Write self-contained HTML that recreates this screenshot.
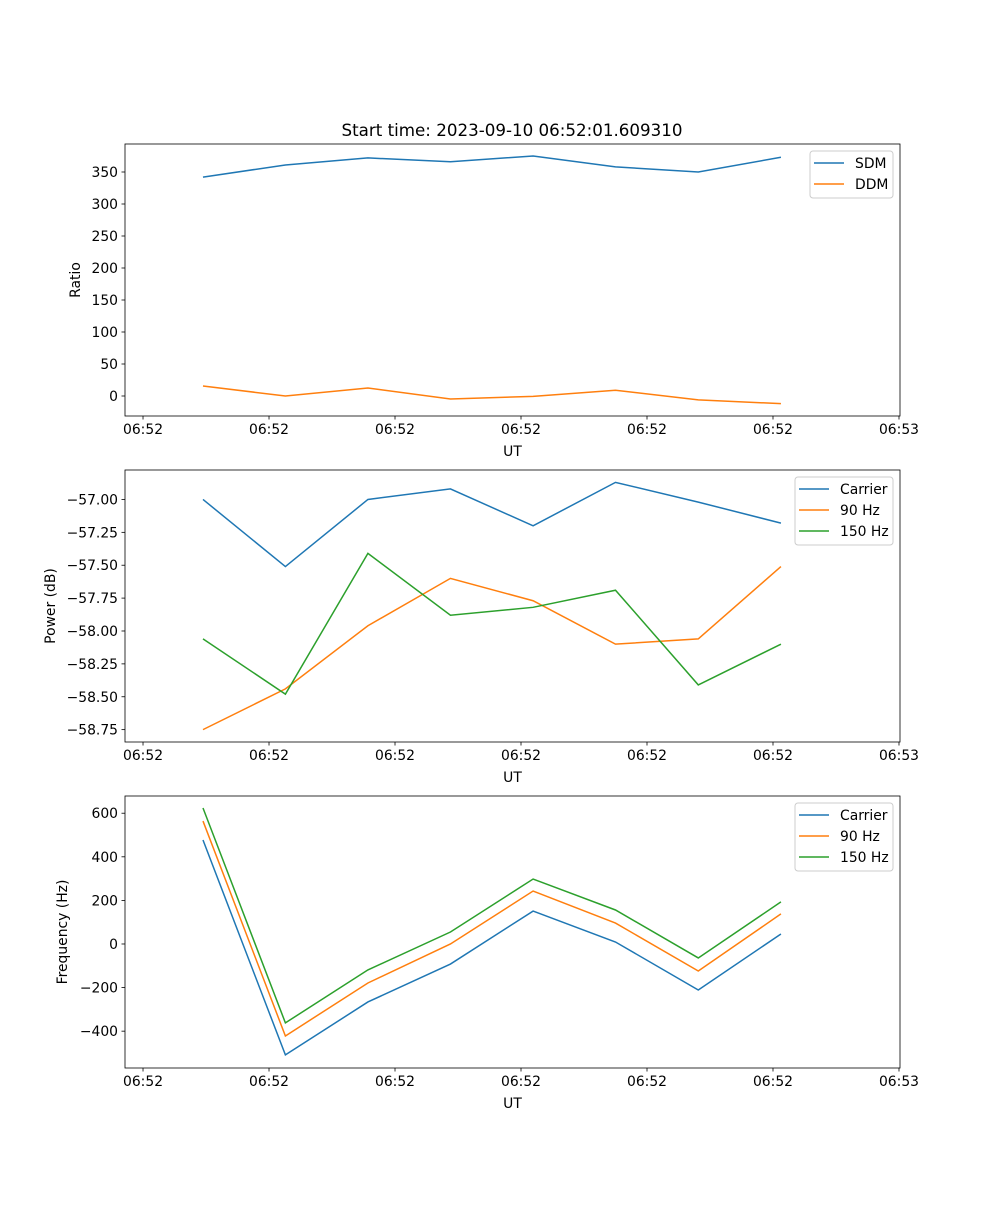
<!DOCTYPE html>
<html><head><meta charset="utf-8"><style>
body{margin:0;background:#fff}
svg text{font-family:"DejaVu Sans","Liberation Sans",sans-serif;font-size:13.9px;fill:#000}
</style></head><body>
<svg id="fig" width="1000" height="1200" xmlns="http://www.w3.org/2000/svg">
<text x="512" y="136" text-anchor="middle" style="font-size:16.7px">Start time: 2023-09-10 06:52:01.609310</text>
</svg>
<script>
// time in seconds after 06:52:00
const times = [4.76, 11.3, 17.85, 24.4, 30.96, 37.5, 44.07, 50.63];
const xTickValues = [0, 10, 20, 30, 40, 50, 60];
const xTickLabels = ["06:52","06:52","06:52","06:52","06:52","06:52","06:53"];
const sdm = [342, 361, 372, 366, 375, 358, 350, 373];
const ddm = [15.6, 0, 12.5, -4.7, -0.5, 9, -6, -12];
const ratioTicks = [0, 50, 100, 150, 200, 250, 300, 350];
const powCarrier = [-57.0, -57.51, -57.0, -56.92, -57.2, -56.87, -57.02, -57.18];
const pow90 = [-58.75, -58.44, -57.96, -57.60, -57.77, -58.10, -58.06, -57.51];
const pow150 = [-58.06, -58.48, -57.41, -57.88, -57.82, -57.69, -58.41, -58.10];
const powTicks = [-57.00, -57.25, -57.50, -57.75, -58.00, -58.25, -58.50, -58.75];
const freqCarrier = [477, -509, -266, -92, 151, 9, -211, 46];
const freq90 = [564, -422, -179, 0, 243, 96, -124, 138];
const freq150 = [624, -362, -119, 55, 298, 156, -64, 193];
const freqTicks = [-400, -200, 0, 200, 400, 600];

const NS = "http://www.w3.org/2000/svg";
const svg = document.getElementById('fig');
const L = 125, R = 900, XMIN = -1.43, XMAX = 60.08;
const C = {blue:"#1f77b4", orange:"#ff7f0e", green:"#2ca02c"};
function xs(t){return L + (t - XMIN) / (XMAX - XMIN) * (R - L);}
function mk(tag, attrs, parent){const e=document.createElementNS(NS,tag);for(const k in attrs)e.setAttribute(k,attrs[k]);(parent||svg).appendChild(e);return e;}

function panel(name, top, bottom, ymin, ymax, yTicks, fmt, ylabel, ylabX, series, legend){
  const g = mk('g', {});
  
  
  const ys = v => bottom - (v - ymin) / (ymax - ymin) * (bottom - top);
  series.forEach(s => {
    const p = mk('polyline', {points: times.map((t,i)=>xs(t)+','+ys(s.vals[i])).join(' '), fill:'none', stroke:s.color, 'stroke-width':1.5}, g);
    
    
  });
  const frame = mk('rect', {x:L, y:top, width:R-L, height:bottom-top, fill:'none', stroke:'#000', 'stroke-width':0.8}, g);
  
  
  xTickValues.forEach((v,i) => {
    const x = xs(v);
    mk('line', {x1:x, x2:x, y1:bottom, y2:bottom+3.5, stroke:'#000', 'stroke-width':0.8}, g);
    const t = mk('text', {x:x, y:bottom+18, 'text-anchor':'middle'}, g);
    t.textContent = xTickLabels[i];
    
    
  });
  yTicks.forEach(v => {
    const y = ys(v);
    mk('line', {x1:L-3.5, x2:L, y1:y, y2:y, stroke:'#000', 'stroke-width':0.8}, g);
    const t = mk('text', {x:L-7, y:y+5, 'text-anchor':'end'}, g);
    t.textContent = fmt(v);
    
    
  });
  const xl = mk('text', {x:(L+R)/2, y:bottom+40, 'text-anchor':'middle'}, g);
  xl.textContent = 'UT';
  
  
  const cy = (top+bottom)/2;
  const yl = mk('text', {x:ylabX, y:cy, 'text-anchor':'middle', transform:`rotate(-90 ${ylabX} ${cy})`}, g);
  yl.textContent = ylabel;
  
  
  // legend
  const lg = mk('g', {}, g);
  
  
  mk('rect', {x:legend.x, y:top+7, width:893-legend.x, height:series.length*21+5, rx:3, fill:'#fff', 'fill-opacity':0.8, stroke:'#ccc', 'stroke-width':1}, lg);
  series.forEach((s,i) => {
    const y = top + 19 + i*21;
    const e = mk('g', {}, lg);
    
    
    mk('line', {x1:legend.x+4, x2:legend.x+34, y1:y, y2:y, stroke:s.color, 'stroke-width':1.5}, e);
    const t = mk('text', {x:legend.x+45, y:y+5}, e);
    t.textContent = s.label;
  });
}

panel('ratio-panel', 144, 416, -31.25, 393.75, ratioTicks, v=>String(v), 'Ratio', 80,
  [{id:'sdm', label:'SDM', vals:sdm, color:C.blue},{id:'ddm', label:'DDM', vals:ddm, color:C.orange}], {x:810});
panel('power-panel', 470, 742, -58.844, -56.776, powTicks, v=>v.toFixed(2).replace('-','\u2212'), 'Power (dB)', 55,
  [{id:'carrier-power', label:'Carrier', vals:powCarrier, color:C.blue},{id:'90hz-power', label:'90 Hz', vals:pow90, color:C.orange},{id:'150hz-power', label:'150 Hz', vals:pow150, color:C.green}], {x:795});
panel('frequency-panel', 796, 1068, -569, 679, freqTicks, v=>String(v).replace('-','\u2212'), 'Frequency (Hz)', 67,
  [{id:'carrier-freq', label:'Carrier', vals:freqCarrier, color:C.blue},{id:'90hz-freq', label:'90 Hz', vals:freq90, color:C.orange},{id:'150hz-freq', label:'150 Hz', vals:freq150, color:C.green}], {x:795});
</script>
</body></html>
